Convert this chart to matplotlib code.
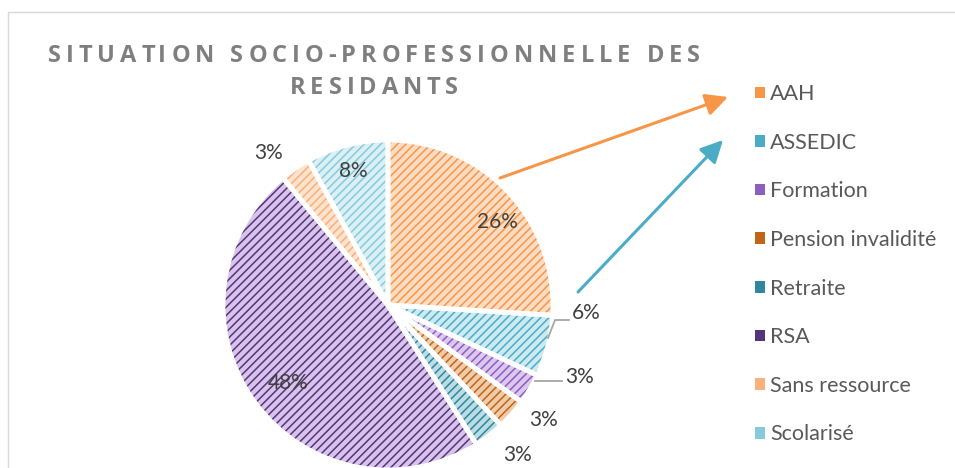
import numpy as np
import matplotlib
matplotlib.use('Agg')
import matplotlib.pyplot as plt
from matplotlib.patches import Patch
from matplotlib.font_manager import FontProperties

W, H = 955, 468

categories = ['AAH', 'ASSEDIC', 'Formation', 'Pension invalidité',
              'Retraite', 'RSA', 'Sans ressource', 'Scolarisé']
shares = [26, 6, 3, 3, 3, 48, 3, 8]
title_lines = ['SITUATION SOCIO-PROFESSIONNELLE DES', 'RESIDANTS']

# stripe colour / background colour of each pattern fill
colors = ['#F79646', '#4BACC6', '#8B5EC0', '#C0641A',
          '#31859C', '#55357A', '#F9B07A', '#86CADC']
bg_colors = ['#FCDDC4', '#CDE9F1', '#DCC8EE', '#F0CBA8',
             '#BADDE5', '#D8C3EC', '#FDE3CE', '#DAF0F5']

plt.rcParams['font.family'] = ['Lato', 'DejaVu Sans']
plt.rcParams['hatch.linewidth'] = 1.1


def px(x, y):
    # pixel coords (origin top-left) -> data coords
    return x, H - y


fig = plt.figure(figsize=(W / 100, H / 100), dpi=100)
ax = fig.add_axes([0, 0, 1, 1])

cx, cy = px(388, 305)
r = 165

# hatched fills
wedges, _ = ax.pie(shares, colors=bg_colors, startangle=90,
                   counterclock=False, center=(cx, cy), radius=r,
                   wedgeprops=dict(linewidth=0))
for w, c in zip(wedges, colors):
    w.set_hatch('////')
    w.set_edgecolor(c)
    w.set_linewidth(0)
# white separators
ax.pie(shares, colors=['none'] * len(shares), startangle=90,
       counterclock=False, center=(cx, cy), radius=r,
       wedgeprops=dict(linewidth=3.5, edgecolor='white'))

ax.set_xlim(0, W)
ax.set_ylim(0, H)
ax.set_aspect('equal')
ax.axis('off')

# percentage labels: (radius factor, angle shift in degrees)
label_pos = [(0.83, -6), (1.2, 12), (1.24, 10), (1.17, 5),
             (1.2, 3), (0.77, 2), (1.17, 4), (0.84, 0)]
for w, s, (rf, dth) in zip(wedges, shares, label_pos):
    mid = np.deg2rad((w.theta1 + w.theta2) / 2 + dth)
    ax.text(cx + rf * r * np.cos(mid), cy + rf * r * np.sin(mid), f'{s}%',
            ha='center', va='center', fontsize=15, color='#404040')

# leader lines
lx, ly = zip(px(548, 338), px(555, 320), px(569, 320))
ax.plot(lx, ly, color='#a6a6a6', lw=1.3)
lx, ly = zip(px(535, 381), px(562, 381))
ax.plot(lx, ly, color='#a6a6a6', lw=1.3)

# arrows to legend
astyle = '-|>,head_length=0.9,head_width=0.45'
ax.annotate('', xy=px(728, 97), xytext=px(500, 178),
            arrowprops=dict(arrowstyle=astyle, color='#F79646', lw=2.2,
                            mutation_scale=15, shrinkA=0, shrinkB=0))
ax.annotate('', xy=px(723, 140), xytext=px(578, 292),
            arrowprops=dict(arrowstyle=astyle, color='#4BACC6', lw=2.2,
                            mutation_scale=15, shrinkA=0, shrinkB=0))

# chart border
ax.plot([8, 8, W + 5], [-5, H - 12, H - 12], color='#d9d9d9', lw=1)

# title, letter-spaced like the original
renderer = fig.canvas.get_renderer()
tprop = FontProperties(family=['Open Sans', 'DejaVu Sans'], weight='bold',
                       size=17)


def text_w(s):
    return renderer.get_text_width_height_descent(s, tprop, ismath=False)[0]


first = title_lines[0]
track = (652 - text_w(first)) / (len(first) - 1)
title_cx = 374
for line, ty in zip(title_lines, [56, 88]):
    total = text_w(line) + track * (len(line) - 1)
    x0 = title_cx - total / 2
    for i, ch in enumerate(line):
        if ch == ' ':
            continue
        ax.text(x0 + text_w(line[:i]) + track * i, H - ty, ch,
                ha='left', va='center', fontproperties=tprop,
                color='#7f7f7f')

# legend
handles = [Patch(facecolor=c, edgecolor='none') for c in colors]
fig.legend(handles=handles, labels=categories, loc='upper left',
           bbox_to_anchor=(755 / W, 1 - 84 / H), frameon=False,
           fontsize=15.5, labelcolor='#595959', handlelength=0.45,
           handleheight=0.45, handletextpad=0.25, labelspacing=1.33,
           borderpad=0, borderaxespad=0)

fig.savefig('out.png', dpi=100)
